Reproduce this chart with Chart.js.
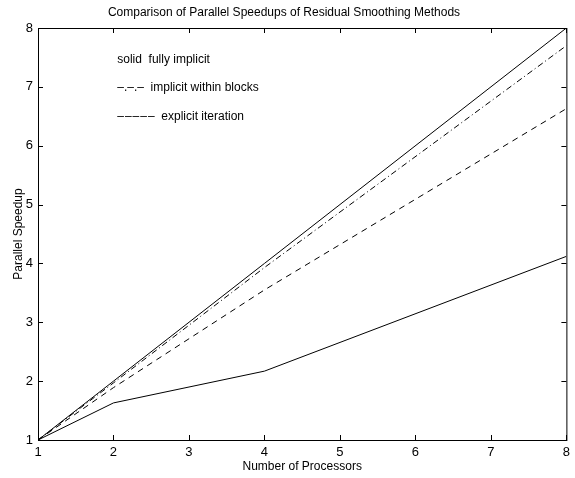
<!DOCTYPE html>
<html>
<head>
<meta charset="utf-8">
<script src="https://cdn.jsdelivr.net/npm/chart.js@4/dist/chart.umd.min.js"></script>
<style>
  html, body { margin: 0; padding: 0; background: #fff; }
  #wrap { width: 575px; height: 478px; }
</style>
</head>
<body>
<div id="wrap"><canvas id="speedupChart"></canvas></div>
<script>
// processors on x axis
const processors = [1, 2, 4, 8];
const idealSpeedup = [1, 2, 4, 8];
const fullyImplicit = [1, 1.63, 2.17, 4.12];
const implicitBlocks = [1, 1.97, 3.93, 7.7];
const explicitIteration = [1, 1.89, 3.55, 6.63];

const xTicks = [1, 2, 3, 4, 5, 6, 7, 8];
const yTicks = [1, 2, 3, 4, 5, 6, 7, 8];

// in-plot legend text (matlab style)
const noteLines = ['solid  fully implicit', '\u2013.\u2013.\u2013  implicit within blocks', '\u2013\u200A\u2013\u200A\u2013\u200A\u2013\u200A\u2013  explicit iteration'];
const noteY = [7.46, 6.98, 6.49];

const FONT = 'Liberation Sans, Arial, Helvetica, sans-serif';

function pts(ys) {
  return processors.map((x, i) => ({ x: x, y: ys[i] }));
}

// box + inward ticks + the notes
const boxPlugin = {
  id: 'box',
  afterDatasetsDraw(chart) {
    const { ctx, chartArea: a, scales } = chart;
    ctx.save();
    ctx.strokeStyle = '#000';
    ctx.lineWidth = 1;
    ctx.strokeRect(a.left + 0.5, a.top + 0.5, a.right - a.left, a.bottom - a.top);
    ctx.beginPath();
    xTicks.forEach(v => {
      const px = Math.round(scales.x.getPixelForValue(v)) + 0.5;
      ctx.moveTo(px, a.bottom); ctx.lineTo(px, a.bottom - 5);
      ctx.moveTo(px, a.top); ctx.lineTo(px, a.top + 5);
    });
    yTicks.forEach(v => {
      const py = Math.round(scales.y.getPixelForValue(v)) + 0.5;
      ctx.moveTo(a.left, py); ctx.lineTo(a.left + 5, py);
      ctx.moveTo(a.right, py); ctx.lineTo(a.right - 5, py);
    });
    ctx.stroke();

    ctx.fillStyle = '#000';
    ctx.font = '12px ' + FONT;
    ctx.textBaseline = 'middle';
    noteLines.forEach((t, i) => {
      ctx.fillText(t, scales.x.getPixelForValue(2.05), scales.y.getPixelForValue(noteY[i]));
    });
    ctx.restore();
  }
};

new Chart(document.getElementById('speedupChart'), {
  type: 'line',
  data: {
    datasets: [
      { label: 'ideal', data: pts(idealSpeedup), borderColor: '#000', borderWidth: 1, pointRadius: 0, fill: false },
      { label: 'fully implicit', data: pts(fullyImplicit), borderColor: '#000', borderWidth: 1, pointRadius: 0, fill: false },
      { label: 'implicit within blocks', data: pts(implicitBlocks), borderColor: '#000', borderWidth: 1, borderDash: [6, 3, 1, 3], pointRadius: 0, fill: false },
      { label: 'explicit iteration', data: pts(explicitIteration), borderColor: '#000', borderWidth: 1, borderDash: [6, 5], pointRadius: 0, fill: false }
    ]
  },
  options: {
    responsive: true,
    maintainAspectRatio: false,
    animation: false,
    layout: { padding: { top: 0, right: 7, bottom: 0, left: 0 } },
    plugins: {
      legend: { display: false },
      tooltip: { enabled: false },
      title: {
        display: true,
        text: 'Comparison of Parallel Speedups of Residual Smoothing Methods',
        color: '#000',
        font: { family: FONT, size: 12, weight: 'normal' },
        padding: { top: 5, bottom: 8.6 }
      }
    },
    scales: {
      x: {
        type: 'linear',
        min: 1, max: 8,
        afterBuildTicks: s => { s.ticks = xTicks.map(v => ({ value: v })); },
        afterFit: s => { s.height = 38; },
        grid: { display: false, drawTicks: false },
        border: { display: false },
        ticks: { color: '#000', padding: 5, font: { family: FONT, size: 13 } },
        title: { display: true, text: 'Number of Processors', color: '#000', padding: { top: 0, bottom: 4 }, font: { family: FONT, size: 12 } }
      },
      y: {
        type: 'linear',
        min: 1, max: 8,
        afterBuildTicks: s => { s.ticks = yTicks.map(v => ({ value: v })); },
        afterFit: s => { s.width = 38; },
        grid: { display: false, drawTicks: false },
        border: { display: false },
        ticks: { color: '#000', padding: 5, font: { family: FONT, size: 13 } },
        title: { display: true, text: 'Parallel Speedup', color: '#000', padding: { top: 11, bottom: 0 }, font: { family: FONT, size: 12 } }
      }
    }
  },
  plugins: [boxPlugin]
});
</script>
</body>
</html>
